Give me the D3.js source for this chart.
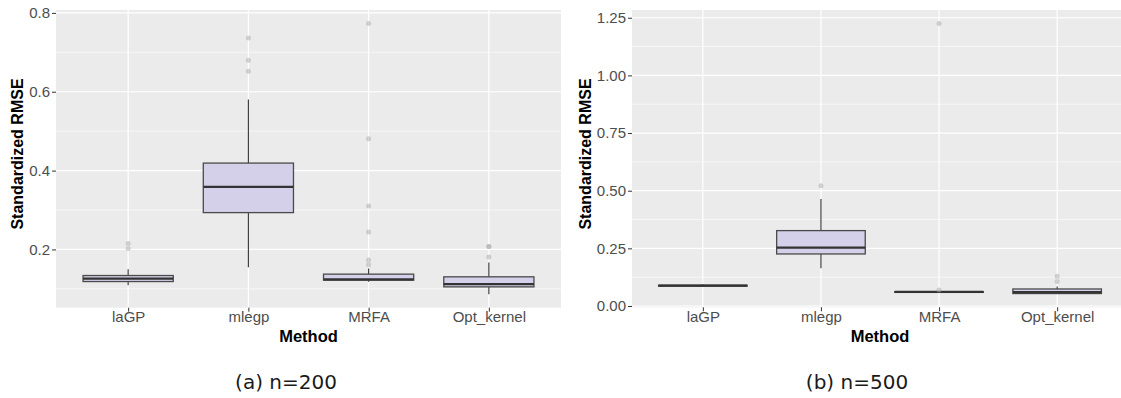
<!DOCTYPE html>
<html>
<head>
<meta charset="utf-8">
<script src="https://cdn.jsdelivr.net/npm/d3@7"></script>
<style>
  body { margin: 0; background: #fff; }
  svg { display: block; }
  .tick-label { font-family: "Liberation Sans", Arial, sans-serif; fill: #4d4d4d; }
  .axis-title { font-family: "Liberation Sans", Arial, sans-serif; font-weight: bold; fill: #000; }
  .caption { font-family: "DejaVu Sans", sans-serif; fill: #1a1a1a; }
</style>
</head>
<body>
<svg id="chart" width="1121" height="398"></svg>
<script>
// Methods compared on the x axis
var methods = ["laGP", "mlegp", "MRFA", "Opt_kernel"];

// Boxplot stats for n=200 (lower whisker, q1, median, q3, upper whisker)
var lo200  = [0.109, 0.155, 0.118, 0.0865];
var q1_200 = [0.1185, 0.2934, 0.122, 0.105];
var med200 = [0.126, 0.3588, 0.124, 0.112];
var q3_200 = [0.1338, 0.419, 0.1373, 0.1305];
var hi200  = [0.150, 0.580, 0.1516, 0.1668];
var out200 = [
  [0.2025, 0.2152],
  [0.652, 0.680, 0.736],
  [0.161, 0.173, 0.2443, 0.3104, 0.481, 0.773],
  [0.181, 0.2076, 0.2076]
];

// Boxplot stats for n=500
var lo500  = [0.083, 0.1636, 0.057, 0.053];
var q1_500 = [0.086, 0.2257, 0.059, 0.054];
var med500 = [0.088, 0.253, 0.061, 0.060];
var q3_500 = [0.090, 0.327, 0.062, 0.0738];
var hi500  = [0.094, 0.464, 0.064, 0.085];
var out500 = [
  [],
  [0.521],
  [0.069, 1.225],
  [0.106, 0.129]
];

// y ticks for each panel
var ticks200 = [0.2, 0.4, 0.6, 0.8];
var ticks500 = [0, 0.25, 0.5, 0.75, 1.0, 1.25];

var svg = d3.select("#chart");

function drawPanel(opts) {
  var g = svg.append("g");
  var left = opts.left, right = opts.right, top = 10, bottom = opts.bottom;

  // Discrete x scale, ggplot style expansion of 0.6 units
  var x = d3.scalePoint().domain(methods).range([left, right]).padding(0.6);
  var step = x.step();

  // y domain from data range plus 5% on each side
  var all = [];
  methods.forEach(function(m, i) {
    all.push(opts.lo[i], opts.hi[i]);
    opts.out[i].forEach(function(v) { all.push(v); });
  });
  var ext = d3.extent(all);
  var pad = (ext[1] - ext[0]) * 0.05;
  var y = d3.scaleLinear().domain([ext[0] - pad, ext[1] + pad]).range([bottom, top]);

  // Panel background
  g.append("rect")
    .attr("x", left).attr("y", top)
    .attr("width", right - left).attr("height", bottom - top)
    .attr("fill", "#ebebeb");

  // Minor grid lines half way between major ticks
  var minor = [];
  var dt = opts.ticks[1] - opts.ticks[0];
  for (var k = -1; k < opts.ticks.length; k++) {
    var v = opts.ticks[0] + dt * (k + 0.5);
    if (v > y.domain()[0] && v < y.domain()[1]) minor.push(v);
  }
  g.selectAll(".minor").data(minor).enter().append("line")
    .attr("x1", left).attr("x2", right)
    .attr("y1", function(d) { return y(d); }).attr("y2", function(d) { return y(d); })
    .attr("stroke", "#fff").attr("stroke-width", 0.6);

  // Major grid lines
  g.selectAll(".major").data(opts.ticks).enter().append("line")
    .attr("x1", left).attr("x2", right)
    .attr("y1", function(d) { return y(d); }).attr("y2", function(d) { return y(d); })
    .attr("stroke", "#fff").attr("stroke-width", 1.2);
  g.selectAll(".vgrid").data(methods).enter().append("line")
    .attr("x1", function(d) { return x(d); }).attr("x2", function(d) { return x(d); })
    .attr("y1", top).attr("y2", bottom)
    .attr("stroke", "#fff").attr("stroke-width", 1.2);

  // Axes: ticks and labels
  var yAxis = d3.axisLeft(y).tickValues(opts.ticks).tickSize(4).tickPadding(2)
    .tickFormat(d3.format(opts.fmt));
  var ya = g.append("g").attr("transform", "translate(" + left + ",0)").call(yAxis);
  var xAxis = d3.axisBottom(x).tickSize(4).tickPadding(2);
  var xa = g.append("g").attr("transform", "translate(0," + bottom + ")").call(xAxis);
  [ya, xa].forEach(function(a) {
    a.select(".domain").remove();
    a.selectAll(".tick line").attr("stroke", "#333").attr("stroke-width", 1);
    a.selectAll(".tick text").attr("class", "tick-label").style("font-size", "15px").attr("fill", null);
  });
  xa.selectAll(".tick text").attr("dy", null).attr("y", 14.5);

  // Boxes
  var bw = step * 0.75;
  var boxes = g.selectAll(".box").data(methods).enter().append("g");
  boxes.append("line")
    .attr("x1", function(d) { return x(d); }).attr("x2", function(d) { return x(d); })
    .attr("y1", function(d, i) { return y(opts.hi[i]); })
    .attr("y2", function(d, i) { return y(opts.q3[i]); })
    .attr("stroke", "#333").attr("stroke-width", 1.1);
  boxes.append("line")
    .attr("x1", function(d) { return x(d); }).attr("x2", function(d) { return x(d); })
    .attr("y1", function(d, i) { return y(opts.q1[i]); })
    .attr("y2", function(d, i) { return y(opts.lo[i]); })
    .attr("stroke", "#333").attr("stroke-width", 1.1);
  boxes.append("rect")
    .attr("x", function(d) { return x(d) - bw / 2; })
    .attr("y", function(d, i) { return y(opts.q3[i]); })
    .attr("width", bw)
    .attr("height", function(d, i) { return y(opts.q1[i]) - y(opts.q3[i]); })
    .attr("fill", "#d4d0e9").attr("stroke", "#4a4a4a").attr("stroke-width", 1.3);
  boxes.append("line")
    .attr("x1", function(d) { return x(d) - bw / 2; }).attr("x2", function(d) { return x(d) + bw / 2; })
    .attr("y1", function(d, i) { return y(opts.med[i]); })
    .attr("y2", function(d, i) { return y(opts.med[i]); })
    .attr("stroke", "#333").attr("stroke-width", 2.2);

  // Outliers
  methods.forEach(function(m, i) {
    g.selectAll(null).data(opts.out[i]).enter().append("circle")
      .attr("cx", x(m)).attr("cy", function(d) { return y(d); })
      .attr("r", 2.5)
      .attr("fill", "rgba(170,170,170,0.5)");
  });

  // Axis titles
  var cx = (left + right) / 2;
  g.append("text").attr("class", "axis-title")
    .attr("x", cx).attr("y", 341.5).attr("text-anchor", "middle")
    .style("font-size", "16.5px").text("Method");
  g.append("text").attr("class", "axis-title")
    .attr("transform", "translate(" + (opts.left - opts.ylabOffset) + "," + 154 + ") rotate(-90)")
    .attr("text-anchor", "middle")
    .style("font-size", "16px").text("Standardized RMSE");

  // Caption below the panel
  g.append("text").attr("class", "caption")
    .attr("x", opts.capX).attr("y", 389).attr("text-anchor", "middle")
    .style("font-size", "20px").text(opts.caption);
}

drawPanel({
  left: 56, right: 561, bottom: 307.7,
  lo: lo200, q1: q1_200, med: med200, q3: q3_200, hi: hi200, out: out200,
  ticks: ticks200, fmt: ".1f", ylabOffset: 33, capX: 286, caption: "(a) n=200"
});
drawPanel({
  left: 632, right: 1128, bottom: 307.3,
  lo: lo500, q1: q1_500, med: med500, q3: q3_500, hi: hi500, out: out500,
  ticks: ticks500, fmt: ".2f", ylabOffset: 41, capX: 857, caption: "(b) n=500"
});
</script>
</body>
</html>
